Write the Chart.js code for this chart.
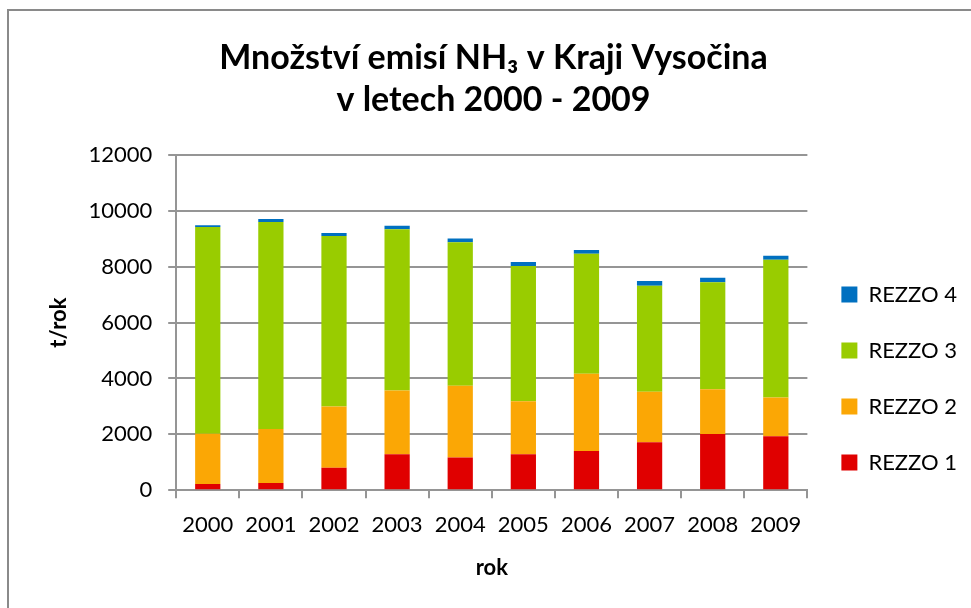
<!DOCTYPE html>
<html>
<head>
<meta charset="utf-8">
<script src="https://cdn.jsdelivr.net/npm/chart.js@4.4.0/dist/chart.umd.min.js"></script>
<style>
  html, body { margin: 0; background: #fff; }
  #wrap { width: 971px; height: 608px; }
</style>
</head>
<body>
<div id="wrap"><canvas id="chart"></canvas></div>
<script>
// data (t/rok)
const years = ['2000', '2001', '2002', '2003', '2004', '2005', '2006', '2007', '2008', '2009'];
const rezzo1 = [225, 260, 800, 1290, 1170, 1290, 1400, 1720, 2010, 1930];
const rezzo2 = [1800, 1930, 2200, 2280, 2570, 1890, 2770, 1800, 1600, 1390];
const rezzo3 = [7400, 7415, 6100, 5770, 5140, 4850, 4290, 3800, 3830, 4930];
const rezzo4 = [60, 100, 110, 130, 130, 140, 140, 165, 165, 145];
const yMax = 12000;
const yStep = 2000;

const FONT = 'Lato';
const GRID = '#959595';

// grey frame round the chart (right/bottom edges fall outside the picture)
const framePlugin = {
  id: 'frame',
  beforeDraw(chart) {
    const ctx = chart.ctx;
    ctx.save();
    ctx.fillStyle = '#fff';
    ctx.fillRect(0, 0, chart.width, chart.height);
    ctx.strokeStyle = '#8a8a8a';
    ctx.lineWidth = 2;
    ctx.strokeRect(8, 10, 1100, 1100);
    ctx.restore();
  }
};

document.addEventListener('DOMContentLoaded', () => {
  const ctx = document.getElementById('chart').getContext('2d');

  new Chart(ctx, {
    type: 'bar',
    data: {
      labels: years,
      datasets: [
        { label: 'REZZO 1', data: rezzo1, backgroundColor: '#e00000' },
        { label: 'REZZO 2', data: rezzo2, backgroundColor: '#fba705' },
        { label: 'REZZO 3', data: rezzo3, backgroundColor: '#99cc00' },
        { label: 'REZZO 4', data: rezzo4, backgroundColor: '#0070c0' }
      ]
    },
    options: {
      responsive: true,
      maintainAspectRatio: false,
      animation: false,
      datasets: {
        bar: { barPercentage: 0.4, categoryPercentage: 1.0, borderWidth: 0 }
      },
      layout: { padding: { left: 20, right: 4, top: 0, bottom: 23 } },
      plugins: {
        title: {
          display: true,
          text: ['Množství emisí NH\u2083 v Kraji Vysočina', 'v letech 2000 - 2009'],
          color: '#000',
          font: { family: FONT, size: 34, weight: 'bold', lineHeight: 1.235 },
          padding: { top: 37, bottom: 34 }
        },
        legend: {
          position: 'right',
          reverse: true,
          // empty title only pushes the items down
          title: { display: true, text: ' ', font: { size: 1, lineHeight: 1 }, padding: { top: 171, bottom: 0 } },
          labels: {
            color: '#000',
            boxWidth: 16,
            boxHeight: 16,
            padding: 34,
            font: { family: FONT, size: 22 }
          }
        },
        tooltip: { enabled: false }
      },
      scales: {
        x: {
          stacked: true,
          grid: { drawOnChartArea: false, drawTicks: true, tickLength: 8, color: GRID, lineWidth: 2 },
          border: { color: GRID, width: 2 },
          ticks: { color: '#000', padding: 14, font: { family: FONT, size: 22 } },
          title: {
            display: true,
            text: 'rok',
            color: '#000',
            font: { family: FONT, size: 22, weight: 'bold' },
            padding: { top: 2 }
          }
        },
        y: {
          stacked: true,
          min: 0,
          max: yMax,
          grid: { color: GRID, lineWidth: 2, tickLength: 8 },
          border: { color: GRID, width: 2 },
          ticks: {
            stepSize: yStep,
            color: '#000',
            padding: 16,
            font: { family: FONT, size: 22 },
            callback: (v) => String(v)
          },
          title: {
            display: true,
            text: 't/rok',
            color: '#000',
            font: { family: FONT, size: 22, weight: 'bold' },
            padding: { top: 26, bottom: 0 }
          }
        }
      }
    },
    plugins: [framePlugin]
  });
});
</script>
</body>
</html>
